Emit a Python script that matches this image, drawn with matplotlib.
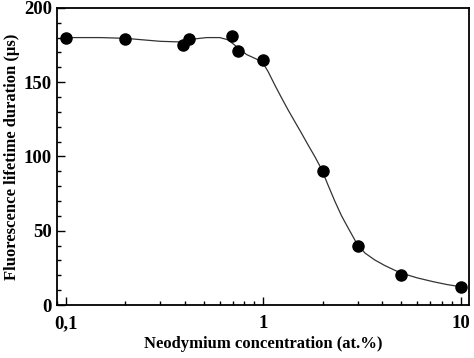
import matplotlib
matplotlib.use('Agg')
import matplotlib.pyplot as plt
from matplotlib.ticker import FixedLocator, FixedFormatter, MultipleLocator, LogLocator, NullFormatter

plt.rcParams['font.family'] = ['Liberation Serif', 'DejaVu Serif']
plt.rcParams['font.weight'] = 'bold'

# Measured points
conc = [0.1, 0.2, 0.39, 0.42, 0.69, 0.74, 1.0, 2.0, 3.0, 5.0, 10.0]
lifetime = [180, 179, 175, 179, 181, 171, 165, 90, 40, 20, 12]

# Fitted curve
curve_x = [0.1, 0.15, 0.2, 0.3, 0.393, 0.441, 0.516, 0.602, 0.663, 0.731, 0.822, 0.924,
           1.0, 1.058, 1.144, 1.236, 1.335, 1.444, 1.561, 1.686, 1.823, 1.971,
           2.13, 2.30, 2.49, 2.69, 2.98, 3.27, 3.67, 4.12, 4.63, 5.0, 6.0, 7.25, 8.5, 10.0]
curve_y = [180, 180, 179.5, 177.5, 177, 179, 180, 180, 178.5, 174, 168.6, 165.5,
           162.5, 157, 148, 139.5, 131.3, 123.4, 115.6, 107.7, 99.9, 91.5,
           80.5, 70, 60, 51.8, 41.2, 35, 30.3, 26.6, 23.4, 21.5, 18.3, 15.7, 13.8, 12.3]

fig = plt.figure(figsize=(4.74, 3.58), dpi=100)
ax = fig.add_axes([0.120, 0.148, 0.869, 0.830])

ax.plot(curve_x, curve_y, color='#333333', lw=0.9, zorder=2)
ax.plot(conc, lifetime, 'o', color='black', markersize=8, zorder=3)

ax.set_xscale('log')
ax.set_xlim(0.09, 10.98)
ax.set_ylim(0, 200)

ax.xaxis.set_major_locator(FixedLocator([0.1, 1, 10]))
ax.xaxis.set_major_formatter(FixedFormatter(['0,1', '1', '10']))
ax.xaxis.set_minor_locator(LogLocator(base=10, subs=range(2, 10)))
ax.xaxis.set_minor_formatter(NullFormatter())
ax.yaxis.set_major_locator(MultipleLocator(50))
ax.yaxis.set_minor_locator(MultipleLocator(10))

ax.tick_params(which='both', direction='in', top=False, right=False, width=1.0)
ax.tick_params(which='major', length=6, labelsize=13.5)
ax.tick_params(which='minor', length=3)
ax.tick_params(axis='x', which='major', pad=7)
for s in ax.spines.values():
    s.set_linewidth(1.3)

ax.set_xlabel('Neodymium concentration (at.%)', fontsize=12, fontweight='bold', labelpad=3)
ax.set_ylabel('Fluorescence lifetime duration (\u03bcs)', fontsize=12, fontweight='bold', labelpad=3)

fig.savefig('out.png', dpi=100)
